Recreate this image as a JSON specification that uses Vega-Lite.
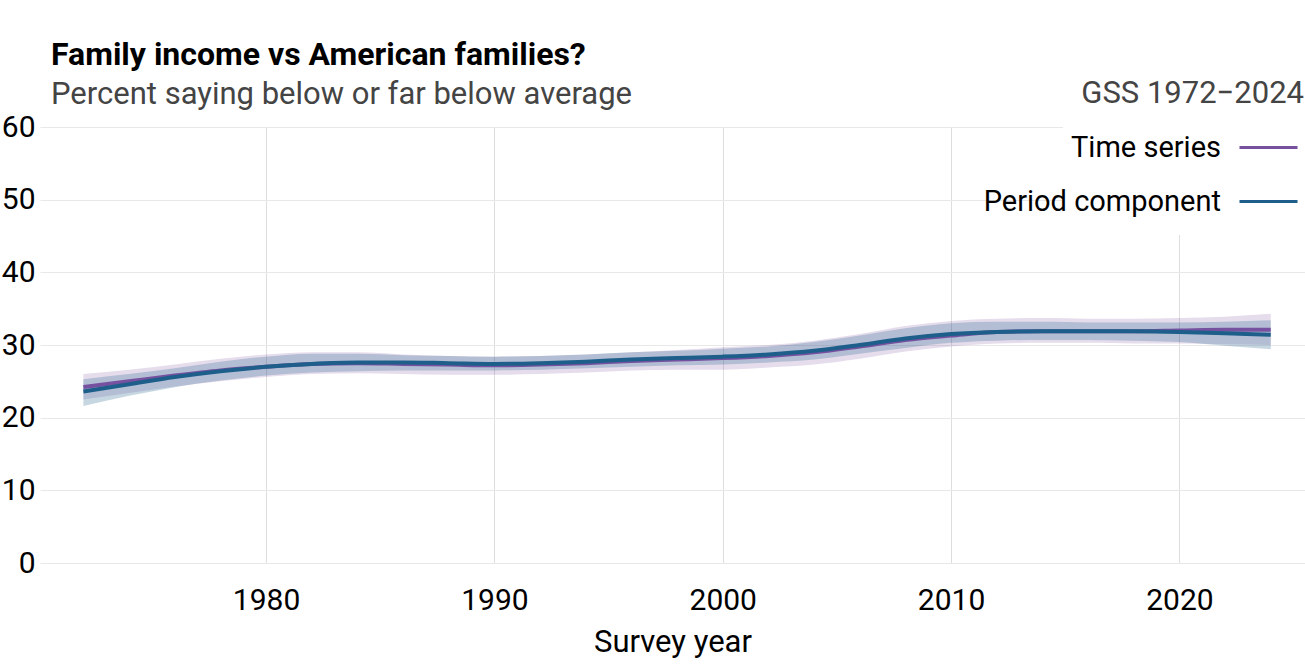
{
  "$schema": "https://vega.github.io/schema/vega-lite/v6.json",
  "width": 1265,
  "height": 436,
  "autosize": {"type": "none"},
  "padding": {"left": 40, "top": 127, "right": 0, "bottom": 108},
  "title": {
    "text": "Family income vs American families?",
    "subtitle": "Percent saying below or far below average",
    "anchor": "start",
    "frame": "group",
    "dx": 11,
    "offset": -50,
    "fontSize": 32,
    "fontWeight": "bold",
    "color": "black",
    "subtitleFontSize": 31,
    "subtitleColor": "#444444",
    "subtitlePadding": 8
  },
  "data": {
    "values": [
      {"year": 1972, "series": "Time series", "est": 24.2, "lo": 22.5, "hi": 26.0},
      {"year": 1974, "series": "Time series", "est": 25.0, "lo": 23.4, "hi": 26.6},
      {"year": 1976, "series": "Time series", "est": 25.8, "lo": 24.3, "hi": 27.3},
      {"year": 1978, "series": "Time series", "est": 26.5, "lo": 25.0, "hi": 28.1},
      {"year": 1980, "series": "Time series", "est": 27.0, "lo": 25.6, "hi": 28.7},
      {"year": 1982, "series": "Time series", "est": 27.4, "lo": 26.0, "hi": 29.0},
      {"year": 1984, "series": "Time series", "est": 27.5, "lo": 26.1, "hi": 29.0},
      {"year": 1986, "series": "Time series", "est": 27.4, "lo": 26.0, "hi": 28.7},
      {"year": 1988, "series": "Time series", "est": 27.3, "lo": 25.9, "hi": 28.5},
      {"year": 1990, "series": "Time series", "est": 27.2, "lo": 25.9, "hi": 28.4},
      {"year": 1992, "series": "Time series", "est": 27.3, "lo": 26.0, "hi": 28.5},
      {"year": 1994, "series": "Time series", "est": 27.5, "lo": 26.2, "hi": 28.7},
      {"year": 1996, "series": "Time series", "est": 27.8, "lo": 26.5, "hi": 29.0},
      {"year": 1998, "series": "Time series", "est": 28.0, "lo": 26.6, "hi": 29.3},
      {"year": 2000, "series": "Time series", "est": 28.2, "lo": 26.6, "hi": 29.7},
      {"year": 2002, "series": "Time series", "est": 28.5, "lo": 26.9, "hi": 30.0},
      {"year": 2004, "series": "Time series", "est": 29.0, "lo": 27.3, "hi": 30.6},
      {"year": 2006, "series": "Time series", "est": 29.8, "lo": 28.1, "hi": 31.5},
      {"year": 2008, "series": "Time series", "est": 30.7, "lo": 29.1, "hi": 32.6},
      {"year": 2010, "series": "Time series", "est": 31.3, "lo": 29.8, "hi": 33.3},
      {"year": 2012, "series": "Time series", "est": 31.8, "lo": 30.2, "hi": 33.6},
      {"year": 2014, "series": "Time series", "est": 31.9, "lo": 30.3, "hi": 33.7},
      {"year": 2016, "series": "Time series", "est": 31.9, "lo": 30.3, "hi": 33.6},
      {"year": 2018, "series": "Time series", "est": 31.9, "lo": 30.2, "hi": 33.6},
      {"year": 2020, "series": "Time series", "est": 32.0, "lo": 30.2, "hi": 33.7},
      {"year": 2022, "series": "Time series", "est": 32.1, "lo": 30.1, "hi": 33.9},
      {"year": 2024, "series": "Time series", "est": 32.1, "lo": 30.0, "hi": 34.3},
      {"year": 1972, "series": "Period component", "est": 23.6, "lo": 21.6, "hi": 25.3},
      {"year": 1974, "series": "Period component", "est": 24.6, "lo": 23.0, "hi": 26.0},
      {"year": 1976, "series": "Period component", "est": 25.6, "lo": 24.2, "hi": 26.8},
      {"year": 1978, "series": "Period component", "est": 26.4, "lo": 25.1, "hi": 27.7},
      {"year": 1980, "series": "Period component", "est": 27.0, "lo": 25.8, "hi": 28.4},
      {"year": 1982, "series": "Period component", "est": 27.4, "lo": 26.2, "hi": 28.8},
      {"year": 1984, "series": "Period component", "est": 27.6, "lo": 26.4, "hi": 28.8},
      {"year": 1986, "series": "Period component", "est": 27.6, "lo": 26.5, "hi": 28.6},
      {"year": 1988, "series": "Period component", "est": 27.5, "lo": 26.5, "hi": 28.5},
      {"year": 1990, "series": "Period component", "est": 27.4, "lo": 26.5, "hi": 28.4},
      {"year": 1992, "series": "Period component", "est": 27.5, "lo": 26.6, "hi": 28.5},
      {"year": 1994, "series": "Period component", "est": 27.7, "lo": 26.8, "hi": 28.7},
      {"year": 1996, "series": "Period component", "est": 28.0, "lo": 27.0, "hi": 29.0},
      {"year": 1998, "series": "Period component", "est": 28.2, "lo": 27.2, "hi": 29.2},
      {"year": 2000, "series": "Period component", "est": 28.4, "lo": 27.3, "hi": 29.5},
      {"year": 2002, "series": "Period component", "est": 28.7, "lo": 27.6, "hi": 29.8},
      {"year": 2004, "series": "Period component", "est": 29.2, "lo": 28.0, "hi": 30.4},
      {"year": 2006, "series": "Period component", "est": 30.0, "lo": 28.8, "hi": 31.3},
      {"year": 2008, "series": "Period component", "est": 30.9, "lo": 29.6, "hi": 32.3},
      {"year": 2010, "series": "Period component", "est": 31.5, "lo": 30.3, "hi": 33.0},
      {"year": 2012, "series": "Period component", "est": 31.8, "lo": 30.6, "hi": 33.2},
      {"year": 2014, "series": "Period component", "est": 31.9, "lo": 30.7, "hi": 33.2},
      {"year": 2016, "series": "Period component", "est": 31.9, "lo": 30.7, "hi": 33.1},
      {"year": 2018, "series": "Period component", "est": 31.9, "lo": 30.6, "hi": 33.1},
      {"year": 2020, "series": "Period component", "est": 31.8, "lo": 30.4, "hi": 33.1},
      {"year": 2022, "series": "Period component", "est": 31.6, "lo": 29.9, "hi": 33.2},
      {"year": 2024, "series": "Period component", "est": 31.4, "lo": 29.4, "hi": 33.4}
    ]
  },
  "encoding": {
    "x": {
      "field": "year",
      "type": "quantitative",
      "title": "Survey year",
      "scale": {"domain": [1970.1, 2025.5], "nice": false, "zero": false},
      "axis": {
        "values": [1980, 1990, 2000, 2010, 2020],
        "format": "d",
        "domain": false,
        "ticks": false,
        "labelPadding": 22,
        "titlePadding": 12,
        "gridColor": "#dedede"
      }
    }
  },
  "layer": [
    {
      "transform": [{"filter": "datum.series == 'Time series'"}],
      "mark": {"type": "area", "interpolate": "monotone", "color": "#7b4f9e", "opacity": 0.2},
      "encoding": {
        "y": {"field": "lo", "type": "quantitative"},
        "y2": {"field": "hi"}
      }
    },
    {
      "transform": [{"filter": "datum.series == 'Period component'"}],
      "mark": {"type": "area", "interpolate": "monotone", "color": "#1f5f8b", "opacity": 0.25},
      "encoding": {
        "y": {"field": "lo", "type": "quantitative"},
        "y2": {"field": "hi"}
      }
    },
    {
      "transform": [{"filter": "datum.series == 'Time series'"}],
      "mark": {"type": "line", "interpolate": "monotone", "strokeWidth": 4},
      "encoding": {
        "y": {"field": "est", "type": "quantitative"},
        "color": {"field": "series", "type": "nominal"}
      }
    },
    {
      "transform": [{"filter": "datum.series == 'Period component'"}],
      "mark": {"type": "line", "interpolate": "monotone", "strokeWidth": 4},
      "encoding": {
        "y": {
          "field": "est",
          "type": "quantitative",
          "title": null,
          "scale": {"domain": [0, 60], "nice": false},
          "axis": {
            "values": [0, 10, 20, 30, 40, 50, 60],
            "domain": false,
            "ticks": false,
            "labelPadding": 5,
            "gridColor": "#e8e8e8"
          }
        },
        "color": {
          "field": "series",
          "type": "nominal",
          "scale": {"domain": ["Time series", "Period component"], "range": ["#7651a0", "#1d5f8a"]},
          "legend": {
            "title": "GSS 1972−2024",
            "orient": "none",
            "legendX": 1023,
            "legendY": -66,
            "direction": "vertical",
            "titleAnchor": "end",
            "titleAlign": "right",
            "titleFontSize": 31,
            "titleFontWeight": "normal",
            "titleColor": "#444444",
            "titlePadding": 7,
            "titleLimit": 500,
            "labelFontSize": 29,
            "labelColor": "black",
            "labelAlign": "right",
            "labelOffset": -78,
            "labelLimit": 500,
            "symbolType": "stroke",
            "symbolSize": 3364,
            "symbolStrokeWidth": 3,
            "rowPadding": 8,
            "fillColor": "white",
            "padding": 18
          }
        }
      }
    }
  ],
  "config": {
    "font": "Roboto",
    "view": {"stroke": null},
    "axis": {
      "labelFontSize": 30,
      "labelColor": "black",
      "titleFontSize": 31,
      "titleFontWeight": "normal",
      "titleColor": "black",
      "gridWidth": 1
    }
  }
}
